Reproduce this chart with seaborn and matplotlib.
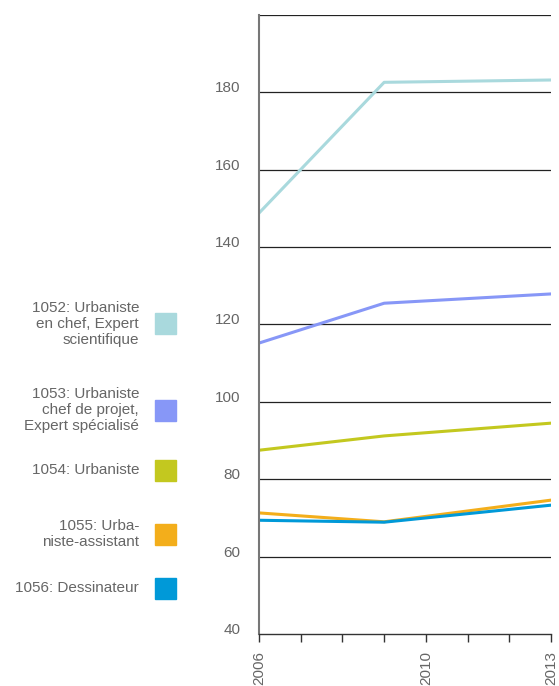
import matplotlib
matplotlib.use("Agg")
import matplotlib.pyplot as plt
import matplotlib.patches as mpatches
import seaborn as sns
import pandas as pd

years = [2006, 2009, 2013]
categories = [
    "1052: Urbaniste\nen chef, Expert\nscientifique",
    "1053: Urbaniste\nchef de projet,\nExpert spécialisé",
    "1054: Urbaniste",
    "1055: Urba-\nniste-assistant",
    "1056: Dessinateur",
]
values_1052 = [148.8, 182.6, 183.2]
values_1053 = [115.2, 125.5, 127.9]
values_1054 = [87.5, 91.2, 94.5]
values_1055 = [71.3, 69.0, 74.6]
values_1056 = [69.4, 68.9, 73.3]
colors = ["#a9d9dd", "#8797f7", "#c3c81f", "#f3ae1b", "#0099d8"]
x_tick_labels = [2006, 2010, 2013]
y_ticks = [40, 60, 80, 100, 120, 140, 160, 180]

all_values = [values_1052, values_1053, values_1054, values_1055, values_1056]
rows = []
for cat, vals in zip(categories, all_values):
    for yr, v in zip(years, vals):
        rows.append({"year": yr, "value": v, "cat": cat})
df = pd.DataFrame(rows)

sns.set_style("white")
plt.rcParams["font.family"] = ["Liberation Sans", "DejaVu Sans"]

fig = plt.figure(figsize=(5.59, 6.86), dpi=100)
ax = fig.add_axes([259 / 559, 52 / 686, 292 / 559, 619 / 686])

sns.lineplot(data=df, x="year", y="value", hue="cat", palette=colors,
             hue_order=categories, legend=False, linewidth=2.2, ax=ax)

ax.set_xlim(2006, 2013)
ax.set_ylim(40, 200)
ax.set_xlabel("")
ax.set_ylabel("")

# gridlines incl. top line at 200
for y in [60, 80, 100, 120, 140, 160, 180, 200]:
    ax.axhline(y, color="#222222", linewidth=0.9, zorder=0)

for s in ["top", "right"]:
    ax.spines[s].set_visible(False)
ax.spines["left"].set_color("#777777")
ax.spines["left"].set_linewidth(1.5)
ax.spines["bottom"].set_color("#333333")
ax.spines["bottom"].set_linewidth(1.0)

ax.set_yticks(y_ticks)
ax.set_yticklabels([str(t) for t in y_ticks])
ax.tick_params(axis="y", length=0, pad=13.5, labelsize=11, labelcolor="#666666")
for lbl in ax.get_yticklabels():
    lbl.set_verticalalignment("baseline")

ax.set_xticks(range(2006, 2014))
ax.set_xticklabels([str(y) if y in x_tick_labels else "" for y in range(2006, 2014)],
                   rotation=90)
ax.tick_params(axis="x", length=6, width=1, color="#333333", pad=6,
               labelsize=11, labelcolor="#666666", direction="out")
ax.xaxis.set_ticks_position("bottom")

# legend on the left
legend_y = [324, 410, 470, 534, 588]
for cat, col, ypix in zip(categories, colors, legend_y):
    yf = 1 - ypix / 686
    fig.text(139 / 559, yf, cat, ha="right", va="center", fontsize=11,
             color="#666666", linespacing=1.22)
    fig.patches.append(mpatches.Rectangle((155 / 559, yf - 10.5 / 686), 21 / 559, 21 / 686,
                                          transform=fig.transFigure, color=col, figure=fig))

fig.savefig("out.png", dpi=100)
